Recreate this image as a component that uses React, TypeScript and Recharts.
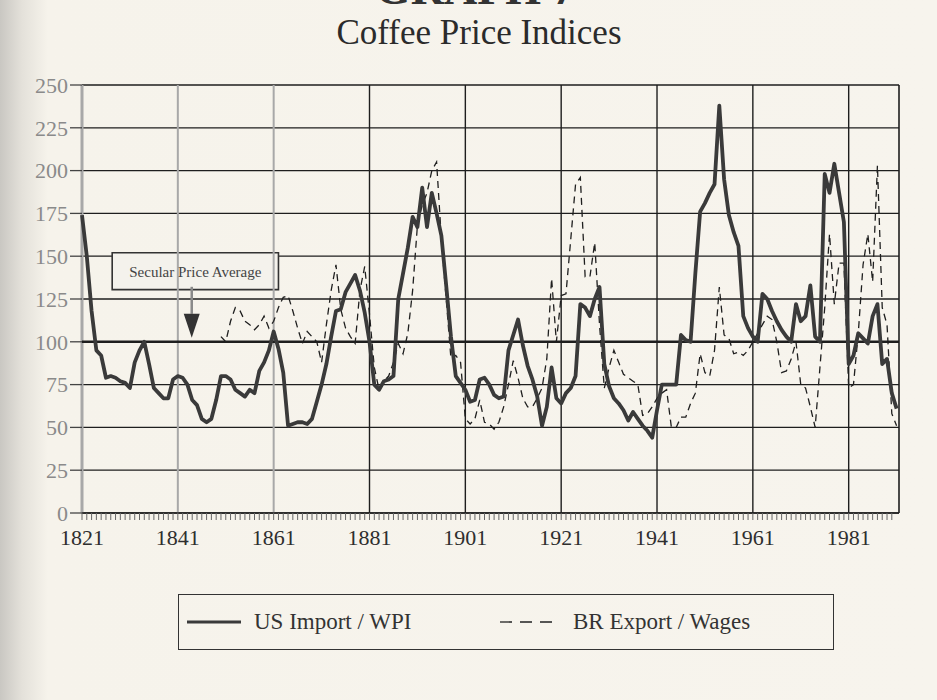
import React from 'react';
import {
  LineChart,
  Line,
  XAxis,
  YAxis,
  CartesianGrid,
  ReferenceLine,
  ReferenceArea,
  ReferenceDot,
} from 'recharts';

const FONT = '"Liberation Serif", "DejaVu Serif", serif';

// annual index values, 1821..1991
const firstYear = 1821;
const usImport = [
  174, 150, 118, 95, 92, 79, 80, 79, 77, 76,
  73, 88, 95, 100, 87, 73, 70, 67, 67, 78,
  80, 79, 75, 66, 63, 55, 53, 55, 66, 80,
  80, 78, 72, 70, 68, 72, 70, 83, 88, 95,
  106, 96, 82, 51, 52, 53, 53, 52, 55, 65,
  75, 87, 103, 118, 119, 129, 134, 139, 130, 117,
  100, 75, 72, 77, 78, 80, 125, 140, 155, 173,
  167, 190, 167, 187, 175, 162, 133, 103, 80, 76,
  72, 65, 66, 78, 79, 75, 69, 67, 68, 95,
  104, 113, 98, 86, 78, 68, 51, 62, 85, 67,
  64, 70, 73, 80, 122, 120, 115, 125, 132, 87,
  74, 67, 64, 60, 54, 59, 55, 51, 48, 44,
  60, 75, 75, 75, 75, 104, 101, 100, 140, 176,
  181, 187, 192, 238, 195, 174, 164, 156, 115, 108,
  103, 100, 128, 125, 118, 112, 107, 103, 100, 122,
  112, 115, 133, 103, 100, 198, 187, 204, 187, 170,
  87, 92, 105, 102, 99, 115, 122, 87, 90, 70,
  61,
];

// starts in 1850
const brFirstYear = 1850;
const brExport = [
  103, 100, 112, 120, 118, 112, 110, 107, 110, 115,
  108, 112, 120, 126, 127, 118, 108, 99, 106, 103,
  100, 88, 110, 130, 145, 119, 108, 103, 99, 130,
  144, 116, 85, 72, 77, 80, 88, 99, 93, 105,
  130, 168, 180, 187, 200, 205, 160, 125, 90, 92,
  88, 55, 52, 55, 66, 53, 52, 49, 53, 62,
  75, 89, 79, 67, 62, 62, 67, 73, 90, 137,
  100, 127, 128, 160, 192, 196, 138, 138, 158, 110,
  73, 85, 95, 88, 81, 79, 77, 75, 57, 58,
  62, 67, 70, 72, 50, 50, 56, 56, 64, 70,
  93, 82, 80, 95, 132, 104, 102, 93, 94, 92,
  95, 100, 105, 110, 115, 113, 100, 82, 83, 90,
  100, 75, 73, 62, 50, 85, 120, 163, 122, 146,
  146, 73, 75, 105, 145, 163, 135, 203, 120, 110,
  58, 51,
];

const majorYears = [1821, 1841, 1861, 1881, 1901, 1921, 1941, 1961, 1981];
const greyYears = [1821, 1841, 1861];
const yTicks = [0, 25, 50, 75, 100, 125, 150, 175, 200, 225, 250];
const secularAverage = 100;

const years = usImport.map((_, i) => firstYear + i);
const minorTicks = years.filter((y) => y <= 1990);

const data = years.map((year, i) => ({
  year,
  us: usImport[i],
  br: year >= brFirstYear ? brExport[year - brFirstYear] : null,
}));

const XTick = ({ x, y, payload }: any) => {
  if (!majorYears.includes(payload.value)) return <g />;
  return (
    <text x={x} y={y + 23} textAnchor="middle" fontSize={22} fill="#2e2e2e" fontFamily={FONT}>
      {payload.value}
    </text>
  );
};

const Arrow = ({ cx, cy }: any) => (
  <g>
    <line x1={cx} y1={cy - 55} x2={cx} y2={cy - 28} stroke="#8a8a8a" strokeWidth={2.5} />
    <polygon points={`${cx - 8},${cy - 28} ${cx + 8},${cy - 28} ${cx},${cy - 4}`} fill="#333" />
  </g>
);

export default function App() {
  return (
    <div
      style={{
        position: 'absolute',
        left: 0,
        top: 0,
        width: 937,
        height: 700,
        overflow: 'hidden',
        fontFamily: FONT,
        background: 'linear-gradient(to right, #c9c7c2 0px, #e4e1da 22px, #f6f3eb 48px, #f7f4ed 100%)',
      }}
    >
      <svg width={937} height={60} style={{ position: 'absolute', left: 0, top: 0 }}>
        <text x={375} y={4} fontSize={46} fontWeight="bold" fill="#333" fontFamily={FONT}>
          GRAPH 7
        </text>
        <text x={479} y={44} textAnchor="middle" fontSize={35} fill="#2b2b2b" fontFamily={FONT}>
          Coffee Price Indices
        </text>
      </svg>

      <div style={{ position: 'absolute', left: 0, top: 0 }}>
        <LineChart width={937} height={700} data={data} margin={{ top: 85, right: 38, bottom: 157, left: 22 }}>
          <CartesianGrid vertical={false} stroke="#1e1e1e" strokeWidth={1.3} />
          <XAxis
            dataKey="year"
            type="number"
            domain={[1821, 1991.5]}
            ticks={minorTicks}
            interval={0}
            tick={<XTick />}
            tickSize={7}
            height={30}
            axisLine={{ stroke: '#222', strokeWidth: 1.5 }}
            tickLine={{ stroke: '#666', strokeWidth: 1 }}
          />
          <YAxis
            type="number"
            domain={[0, 250]}
            ticks={yTicks}
            interval={0}
            width={60}
            tickSize={12}
            axisLine={false}
            tickLine={{ stroke: '#444', strokeWidth: 1.3 }}
            tick={{ fill: '#8a8a8a', fontSize: 22, fontFamily: FONT }}
          />
          {majorYears.map((yr) => (
            <ReferenceLine
              key={yr}
              x={yr}
              stroke={greyYears.includes(yr) ? '#a8a8a8' : '#1e1e1e'}
              strokeWidth={yr === 1821 ? 3 : greyYears.includes(yr) ? 2 : 1.4}
            />
          ))}
          <ReferenceLine x={1991.5} stroke="#1e1e1e" strokeWidth={1.6} />
          <ReferenceLine y={secularAverage} stroke="#1e1e1e" strokeWidth={2.6} />
          <ReferenceArea
            x1={1827.3}
            x2={1862}
            y1={130.5}
            y2={152}
            fill="#f4f2ec"
            fillOpacity={1}
            stroke="#333"
            strokeWidth={1.6}
            label={{ value: 'Secular Price Average', position: 'center', fill: '#444', fontSize: 15, fontFamily: FONT }}
          />
          <ReferenceDot x={1843.9} y={secularAverage} r={0} shape={<Arrow />} />
          <Line
            dataKey="br"
            type="linear"
            stroke="#1f1f1f"
            strokeWidth={1.3}
            strokeDasharray="7 5"
            dot={false}
            activeDot={false}
            isAnimationActive={false}
          />
          <Line
            dataKey="us"
            type="linear"
            stroke="#3a3a3a"
            strokeWidth={3.8}
            strokeLinejoin="round"
            dot={false}
            activeDot={false}
            isAnimationActive={false}
          />
        </LineChart>
      </div>

      <div
        style={{
          position: 'absolute',
          left: 178,
          top: 594,
          width: 656,
          height: 56,
          border: '1.5px solid #333',
          boxSizing: 'border-box',
          color: '#333',
          fontSize: 23,
        }}
      >
        <svg width={60} height={10} style={{ position: 'absolute', left: 8, top: 22 }}>
          <line x1={0} y1={5} x2={54} y2={5} stroke="#3a3a3a" strokeWidth={3} />
        </svg>
        <span style={{ position: 'absolute', left: 75, top: 12, lineHeight: '30px' }}>US Import / WPI</span>
        <svg width={60} height={10} style={{ position: 'absolute', left: 321, top: 22 }}>
          <line x1={0} y1={5} x2={56} y2={5} stroke="#222" strokeWidth={1.3} strokeDasharray="12 8" />
        </svg>
        <span style={{ position: 'absolute', left: 394, top: 12, lineHeight: '30px' }}>BR Export / Wages</span>
      </div>
    </div>
  );
}
